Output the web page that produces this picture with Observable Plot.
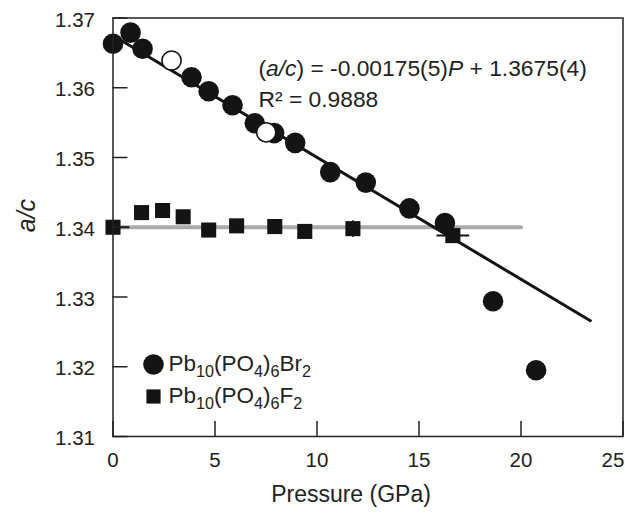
<!DOCTYPE html>
<html><head><meta charset="utf-8">
<script src="https://cdn.jsdelivr.net/npm/d3@7"></script>
<script src="https://cdn.jsdelivr.net/npm/@observablehq/plot@0.6"></script>
<style>
body{margin:0;background:#fff;}
#chart svg{font-family:"Liberation Sans",Arial,Helvetica,sans-serif;}
</style></head><body><div id="chart"></div>
<script>
// Pb10(PO4)6Br2 — filled circles
const pressureBr = [0.0, 0.86, 1.45, 3.85, 4.69, 5.86, 6.95, 7.9, 8.93, 10.65, 12.39, 14.53, 16.27, 18.63, 20.74];
const acBr       = [1.3663, 1.3679, 1.3656, 1.3615, 1.3595, 1.3575, 1.3549, 1.3535, 1.3521, 1.3479, 1.3464, 1.3427, 1.3406, 1.3294, 1.3195];
// Pb10(PO4)6Br2 — open circles
const pressureBrOpen = [2.87, 7.51];
const acBrOpen       = [1.3639, 1.3536];
// Pb10(PO4)6F2 — squares
const pressureF = [0.0, 1.40, 2.43, 3.44, 4.69, 6.06, 7.93, 9.40, 11.76, 16.66];
const acF       = [1.3400, 1.3421, 1.3424, 1.3415, 1.3396, 1.3402, 1.3401, 1.3394, 1.3398, 1.3388];
// error bars on some F points
const errAc       = [1.3400, 1.3388];
const errPLow     = [0.0, 15.86];
const errPHigh    = [0.8, 17.46];
const vErrPressure = [11.76];
const vErrLow      = [1.3386];
const vErrHigh     = [1.3410];
// linear fit for Br and reference line for F
const fitPressure = [0, 23.4];
const fitAc       = [1.3675, 1.3266];
const refPressure = [0, 20];
const refAc       = [1.34, 1.34];
// ticks and labels
const xTicks = [0, 5, 10, 15, 20, 25];
const yTicks = [1.31, 1.32, 1.33, 1.34, 1.35, 1.36, 1.37];
const xLabel = "Pressure (GPa)";
const yLabel = "a/c";
const legendLabels = ["Pb10(PO4)6Br2", "Pb10(PO4)6F2"];
const fitEquation = [["(", ""], ["a/c", "i"], [") = -0.00175(5)", ""], ["P", "i"], [" + 1.3675(4)", ""]];
const fitEquationPlain = fitEquation.map(d => d[0]).join("");
const fitR2 = "R² = 0.9888";

const ink = "#141414";
const rows = (xs, ys) => xs.map((x, i) => ({x, y: ys[i]}));

const plot = Plot.plot({
  width: 625, height: 514,
  marginLeft: 112.5, marginRight: 2.5, marginTop: 17.5, marginBottom: 78,
  style: {fontFamily: "Liberation Sans, Arial, Helvetica, sans-serif", fontSize: "20px", color: "#222", background: "#fff"},
  x: {domain: [0, 25]},
  y: {domain: [1.31, 1.37]},
  marks: [
    Plot.line(rows(refPressure, refAc), {x: "x", y: "y", stroke: "#aaaaaa", strokeWidth: 4}),
    Plot.line(rows(fitPressure, fitAc), {x: "x", y: "y", stroke: ink, strokeWidth: 3}),
    Plot.link(errAc.map((a, i) => ({x1: errPLow[i], x2: errPHigh[i], y: a})), {x1: "x1", x2: "x2", y1: "y", y2: "y", stroke: ink, strokeWidth: 2}),
    Plot.link(vErrPressure.map((p, i) => ({x: p, y1: vErrLow[i], y2: vErrHigh[i]})), {x1: "x", x2: "x", y1: "y1", y2: "y2", stroke: ink, strokeWidth: 1.5}),
    Plot.dot(rows(pressureF, acF), {x: "x", y: "y", symbol: "square", r: 8.5, fill: ink}),
    Plot.dot(rows(pressureBr, acBr), {x: "x", y: "y", r: 10.3, fill: ink}),
    Plot.dot(rows(pressureBrOpen, acBrOpen), {x: "x", y: "y", r: 9.6, fill: "#fff", stroke: ink, strokeWidth: 1.6}),
    Plot.frame({stroke: "#222", strokeWidth: 1.5}),
    Plot.axisX(xTicks, {tickSize: -15, tickFormat: () => "", label: null, stroke: "#222", strokeWidth: 1.5}),
    Plot.axisY(yTicks, {tickSize: -15, tickFormat: () => "", label: null, stroke: "#222", strokeWidth: 1.5}),
    Plot.axisX(xTicks.slice(0, -1), {tickSize: 0, tickPadding: 16, label: null, fontSize: 20.5, fill: "#222"}),
    Plot.axisX(xTicks.slice(-1), {tickSize: 0, tickPadding: 16, label: null, fontSize: 20.5, fill: "#222", dx: -10}),
    Plot.axisY(yTicks, {tickSize: 0, tickPadding: 18, label: null, fontSize: 20.5, fill: "#222", tickFormat: d3.format(".2f"), dy: 2}),
    Plot.text([xLabel], {frameAnchor: "bottom", dx: -17, dy: 65, fontSize: 23, fill: "#222"}),
    Plot.text([yLabel], {frameAnchor: "left", dx: -86, dy: 5, rotate: -90, fontSize: 25, fontStyle: "italic", fill: "#222"}),
    Plot.text([fitEquationPlain], {frameAnchor: "top-left", dx: 145.5, dy: 51, textAnchor: "start", lineAnchor: "middle", fontSize: 22.8, fill: "#222"}),
    Plot.text([fitR2], {frameAnchor: "top-left", dx: 145.5, dy: 82, textAnchor: "start", lineAnchor: "middle", fontSize: 22.8, fill: "#222"}),
    Plot.dot([legendLabels[0]], {frameAnchor: "bottom-left", dx: 40.5, dy: -72, r: 10.3, fill: ink}),
    Plot.dot([legendLabels[1]], {frameAnchor: "bottom-left", dx: 40.5, dy: -40, symbol: "square", r: 8, fill: ink}),
    Plot.text([legendLabels[0]], {frameAnchor: "bottom-left", dx: 55.5, dy: -73, textAnchor: "start", lineAnchor: "middle", fontSize: 22.5, fill: "#222"}),
    Plot.text([legendLabels[1]], {frameAnchor: "bottom-left", dx: 55.5, dy: -41, textAnchor: "start", lineAnchor: "middle", fontSize: 22.5, fill: "#222"})
  ]
});

// rich text: italics and chemical subscripts
function rebuild(textEl, segments) {
  const t = d3.select(textEl);
  t.text(null);
  let shift = 0;
  for (const [s, kind] of segments) {
    const ts = t.append("tspan").text(s);
    if (kind === "i") ts.attr("font-style", "italic");
    const target = kind === "sub" ? 6 : 0;
    if (target !== shift) { ts.attr("dy", target - shift); shift = target; }
    if (kind === "sub") ts.attr("font-size", "0.72em");
  }
}
d3.select(plot).selectAll("text").each(function() {
  const label = this.textContent;
  if (label === fitEquationPlain) rebuild(this, fitEquation);
  else if (legendLabels.includes(label)) {
    const segs = label.split(/(\d+)/).filter(s => s.length).map(s => /^\d+$/.test(s) ? [s, "sub"] : [s, ""]);
    rebuild(this, segs);
  }
});
document.getElementById("chart").appendChild(plot);
</script></body></html>
